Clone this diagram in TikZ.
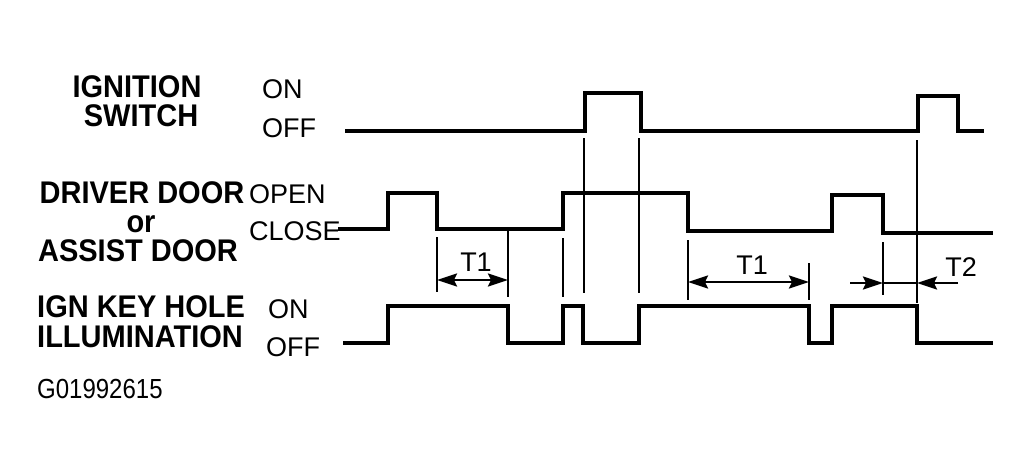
\documentclass[tikz,border=0pt]{standalone}
\usepackage{fontspec}
\setmainfont{Liberation Sans}
\usetikzlibrary{arrows.meta}
\newcommand{\tallb}[1]{\scalebox{1}[1.08]{#1}}
\newcommand{\tallc}[1]{\scalebox{1}[1.15]{#1}}
\begin{document}
\begin{tikzpicture}[x=1pt,y=-1pt,
  wave/.style={line width=3.2pt,line join=miter,line cap=butt},
  guide/.style={line width=2.4pt},
  tip/.tip={Stealth[length=20pt,width=13pt,inset=3pt]},
  dim/.style={line width=2.4pt,-tip},
  dimboth/.style={line width=2.4pt,tip-tip},
  sig/.style={font=\fontsize{29}{30}\selectfont\bfseries,inner sep=0pt,text depth=0pt},
  lvl/.style={font=\fontsize{27}{28}\selectfont,inner sep=0pt,anchor=base west,text depth=0pt},
  tlab/.style={font=\fontsize{27}{28}\selectfont,inner sep=0pt}]
\useasboundingbox (0,0) rectangle (1033,474);
% signal names
\node[sig,anchor=base] (ign1) at (137,97) {\tallb{IGNITION}};
\node[sig,anchor=base] (ign2) at (141,126) {\tallb{SWITCH}};
\node[sig,anchor=base] (dd1) at (142,203) {\tallb{DRIVER DOOR}};
\node[sig,anchor=base] (dd2) at (141,232) {\tallb{or}};
\node[sig,anchor=base] (dd3) at (138,261) {\tallb{ASSIST DOOR}};
\node[sig,anchor=base west] (ik1) at (37,317) {\tallb{IGN KEY HOLE}};
\node[sig,anchor=base west] (ik2) at (37,347) {\tallb{ILLUMINATION}};
% level names
\node[lvl] (ion) at (262,98) {ON};
\node[lvl] (ioff) at (262,137) {OFF};
\node[lvl] (dopen) at (249,203) {OPEN};
\node[lvl] (dclose) at (249,240) {CLOSE};
\node[lvl] (kon) at (268,318) {ON};
\node[lvl] (koff) at (266,356) {OFF};
\node[font=\fontsize{24}{25}\selectfont,inner sep=0pt,anchor=base west] (code) at (37,398) {\tallc{G01992615}};
% waveforms
\draw[wave] (345,131) -- (585,131) -- (585,93) -- (641,93) -- (641,131) -- (918,131) -- (918,96) -- (958,96) -- (958,131) -- (984,131);
\draw[wave] (338,229) -- (388,229) -- (388,193) -- (437,193) -- (437,229) -- (563,229) -- (563,193) -- (688,193) -- (688,231) -- (832,231) -- (832,195) -- (883,195) -- (883,233) -- (993,233);
\draw[wave] (343,343) -- (388,343) -- (388,306) -- (508,306) -- (508,343) -- (563,343) -- (563,306) -- (583,306) -- (583,343) -- (639,343) -- (639,306) -- (809,306) -- (809,343) -- (832,343) -- (832,306) -- (917,306) -- (917,343) -- (993,343);
% guide lines
\draw[guide] (437,237) -- (437,292);
\draw[guide] (508,229) -- (508,297);
\draw[guide] (563,238) -- (563,297);
\draw[guide] (584,138) -- (584,293);
\draw[guide] (639,138) -- (639,293);
\draw[guide] (688,240) -- (688,300);
\draw[guide] (809,263) -- (809,300);
\draw[guide] (883,242) -- (883,295);
\draw[guide] (917,140) -- (917,303);
% dimension arrows
\coordinate (a1l) at (437,280);
\coordinate (a1r) at (508,280);
\draw[dimboth] (a1l) -- (a1r);
\node[tlab] (t1a) at (476,262) {T1};
\coordinate (a2l) at (688,282);
\coordinate (a2r) at (809,282);
\draw[dimboth] (a2l) -- (a2r);
\node[tlab] (t1b) at (752,265) {T1};
\coordinate (b1) at (850,283);
\coordinate (b2) at (883,283);
\coordinate (b3) at (917,283);
\coordinate (b4) at (958,283);
\draw[dim] (b1) -- (b2);
\draw[line width=2.4pt] (b2) -- (b3);
\draw[dim] (b4) -- (b3);
\node[tlab] (t2) at (961,267) {T2};
\end{tikzpicture}
\end{document}
